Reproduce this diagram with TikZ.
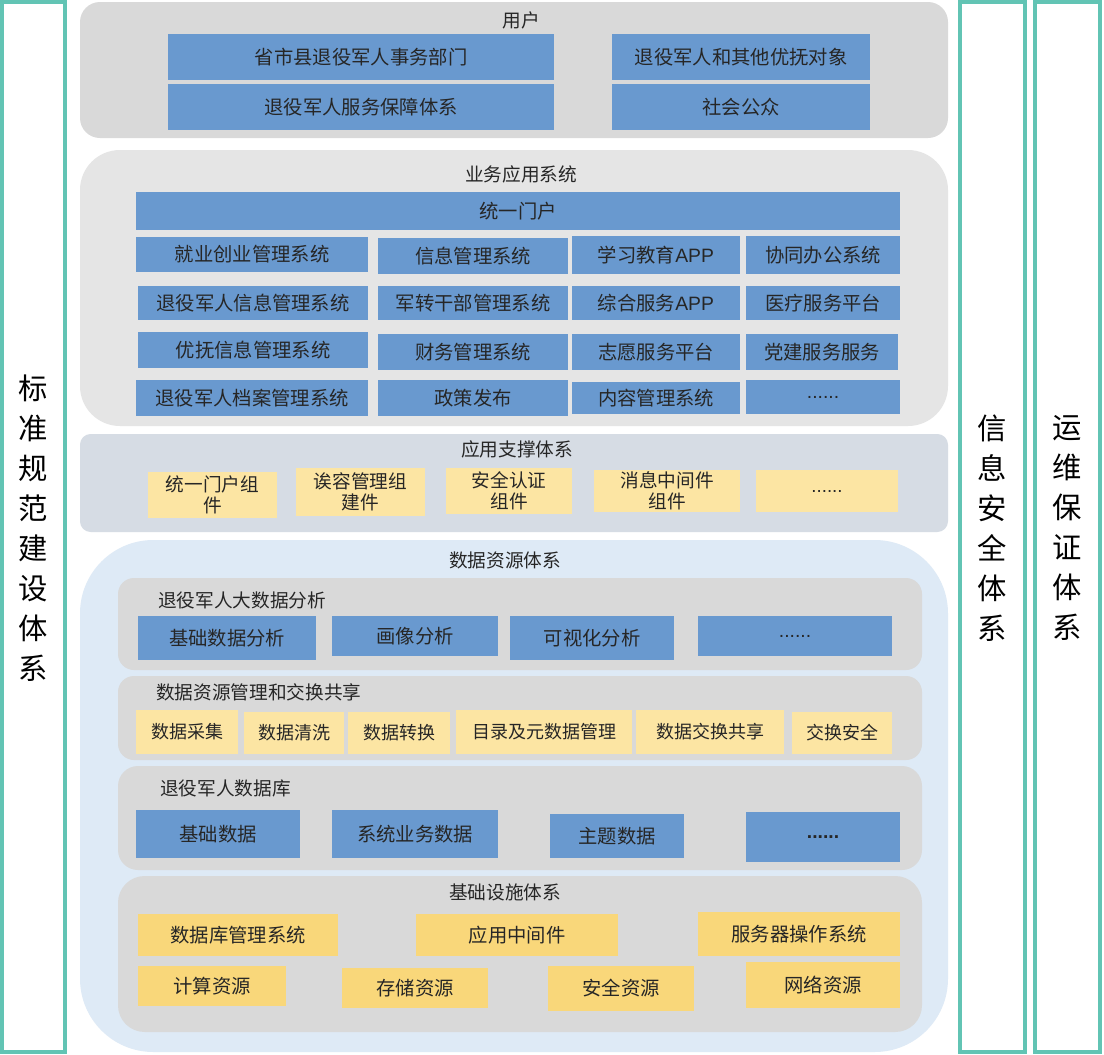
\documentclass[tikz,border=0pt]{standalone}
\usepackage{fontspec}
\setmainfont{Noto Sans CJK SC}
\newfontfamily\latinfont{Liberation Sans}
\definecolor{teal1}{HTML}{62C4B4}
\definecolor{bblue}{HTML}{6999CF}
\definecolor{gyel}{HTML}{F9D77A}
\definecolor{lyel}{HTML}{FCE5A3}
\definecolor{pgray}{HTML}{D9D9D9}
\definecolor{pgray2}{HTML}{E5E5E5}
\definecolor{psup}{HTML}{D6DCE4}
\definecolor{pdata}{HTML}{DEEAF6}
\newcommand\mkbox[7]{%
  \node[#6, minimum width={(#4-#2)*0.75pt}, minimum height={(#5-#3)*0.75pt}]
    (#1) at ({(#2+#4)/2},{(#3+#5)/2}) {#7};}
\begin{document}
\begin{tikzpicture}[x=0.75pt,y=-0.75pt,
  every node/.style={inner sep=0pt, outer sep=0pt},
  bluebox/.style={fill=bblue, font=\fontsize{14.5}{17}\selectfont, text=black!85},
  yelbox/.style={fill=gyel, font=\fontsize{14.5}{17}\selectfont, text=black!85},
  lyelbox/.style={fill=lyel, font=\fontsize{14}{15.5}\selectfont, align=center, text=black!85},
  dyelbox/.style={fill=lyel, font=\fontsize{13.5}{16}\selectfont, text=black!85},
  title/.style={font=\fontsize{14}{17}\selectfont, text=black!85},
  pillar/.style={draw=teal1, line width=3pt, fill=white},
  pillartext/.style={font=\fontsize{22}{30}\selectfont, align=center}]
\useasboundingbox (0,0) rectangle (1104,1054);
\fill[white] (0,0) rectangle (1104,1054);
% pillars
\draw[pillar] (2,2) rectangle (65,1052);
\draw[pillar] (960,2) rectangle (1025,1052);
\draw[pillar] (1035,2) rectangle (1100,1052);
\node[pillartext] (p1) at (33,528) {标\\准\\规\\范\\建\\设\\体\\系};
\node[pillartext] (p2) at (992,528) {信\\息\\安\\全\\体\\系};
\node[pillartext] (p3) at (1067,528) {运\\维\\保\\证\\体\\系};
% user panel
\fill[pgray, rounded corners=15pt] (80,2) rectangle (948,138);
\node[title] (tuser) at (521,20) {用户};
\mkbox{u1}{168}{34}{554}{80}{bluebox}{省市县退役军人事务部门}
\mkbox{u2}{168}{84}{554}{130}{bluebox}{退役军人服务保障体系}
\mkbox{u3}{612}{34}{870}{80}{bluebox}{退役军人和其他优抚对象}
\mkbox{u4}{612}{84}{870}{130}{bluebox}{社会公众}
% business panel
\fill[pgray2, rounded corners=30pt] (80,150) rectangle (948,426);
\node[title] (tbiz) at (521,174) {业务应用系统};
\mkbox{b0}{136}{192}{900}{230}{bluebox}{统一门户}
\mkbox{b11}{136}{237}{368}{272}{bluebox}{就业创业管理系统}
\mkbox{b12}{378}{238}{568}{274}{bluebox}{信息管理系统}
\mkbox{b13}{572}{236}{740}{274}{bluebox}{学习教育{\latinfont APP}}
\mkbox{b14}{746}{236}{900}{274}{bluebox}{协同办公系统}
\mkbox{b21}{138}{286}{368}{320}{bluebox}{退役军人信息管理系统}
\mkbox{b22}{378}{286}{568}{320}{bluebox}{军转干部管理系统}
\mkbox{b23}{572}{286}{740}{320}{bluebox}{综合服务{\latinfont APP}}
\mkbox{b24}{746}{286}{900}{320}{bluebox}{医疗服务平台}
\mkbox{b31}{138}{332}{368}{368}{bluebox}{优抚信息管理系统}
\mkbox{b32}{378}{334}{568}{370}{bluebox}{财务管理系统}
\mkbox{b33}{572}{334}{740}{370}{bluebox}{志愿服务平台}
\mkbox{b34}{746}{334}{898}{370}{bluebox}{党建服务服务}
\mkbox{b41}{136}{380}{368}{416}{bluebox}{退役军人档案管理系统}
\mkbox{b42}{378}{380}{568}{416}{bluebox}{政策发布}
\mkbox{b43}{572}{382}{740}{414}{bluebox}{内容管理系统}
\mkbox{b44}{746}{380}{900}{414}{bluebox}{\latinfont ......}
% support panel
\fill[psup, rounded corners=8pt] (80,434) rectangle (948,532);
\node[title] (tsup) at (517,449) {应用支撑体系};
\mkbox{s1}{148}{472}{277}{518}{lyelbox}{统一门户组\\件}
\mkbox{s2}{296}{468}{425}{516}{lyelbox}{诶容管理组\\建件}
\mkbox{s3}{446}{468}{572}{514}{lyelbox}{安全认证\\组件}
\mkbox{s4}{594}{470}{740}{512}{lyelbox}{消息中间件\\组件}
\mkbox{s5}{756}{470}{898}{512}{lyelbox}{\latinfont ......}
% data resource panel
\fill[pdata, rounded corners=55pt] (80,540) rectangle (948,1052);
\node[title] (tdata) at (505,560) {数据资源体系};
% sub panel 1
\fill[pgray, rounded corners=12pt] (118,578) rectangle (922,670);
\node[title, anchor=west] (td1) at (158,600) {退役军人大数据分析};
\mkbox{d11}{138}{616}{316}{660}{bluebox}{基础数据分析}
\mkbox{d12}{332}{616}{498}{656}{bluebox}{画像分析}
\mkbox{d13}{510}{616}{674}{660}{bluebox}{可视化分析}
\mkbox{d14}{698}{616}{892}{656}{bluebox}{\latinfont ......}
% sub panel 2
\fill[pgray, rounded corners=12pt] (118,676) rectangle (922,760);
\node[title, anchor=west] (td2) at (156,692) {数据资源管理和交换共享};
\mkbox{d21}{136}{710}{238}{754}{dyelbox}{数据采集}
\mkbox{d22}{244}{712}{344}{754}{dyelbox}{数据清洗}
\mkbox{d23}{348}{712}{450}{754}{dyelbox}{数据转换}
\mkbox{d24}{456}{710}{632}{754}{dyelbox}{目录及元数据管理}
\mkbox{d25}{636}{710}{784}{754}{dyelbox}{数据交换共享}
\mkbox{d26}{792}{712}{892}{754}{dyelbox}{交换安全}
% sub panel 3
\fill[pgray, rounded corners=15pt] (118,766) rectangle (922,870);
\node[title, anchor=west] (td3) at (160,788) {退役军人数据库};
\mkbox{d31}{136}{810}{300}{858}{bluebox}{基础数据}
\mkbox{d32}{332}{810}{498}{858}{bluebox}{系统业务数据}
\mkbox{d33}{550}{814}{684}{858}{bluebox}{主题数据}
\mkbox{d34}{746}{812}{900}{862}{bluebox}{\latinfont\bfseries ......}
% sub panel 4
\fill[pgray, rounded corners=20pt] (118,876) rectangle (922,1032);
\node[title] (td4) at (505,892) {基础设施体系};
\mkbox{d41}{138}{914}{338}{956}{yelbox}{数据库管理系统}
\mkbox{d42}{416}{914}{618}{956}{yelbox}{应用中间件}
\mkbox{d43}{698}{912}{900}{956}{yelbox}{服务器操作系统}
\mkbox{d51}{138}{966}{286}{1006}{yelbox}{计算资源}
\mkbox{d52}{342}{968}{488}{1008}{yelbox}{存储资源}
\mkbox{d53}{548}{966}{694}{1011}{yelbox}{安全资源}
\mkbox{d54}{746}{962}{900}{1008}{yelbox}{网络资源}
\end{tikzpicture}
\end{document}
